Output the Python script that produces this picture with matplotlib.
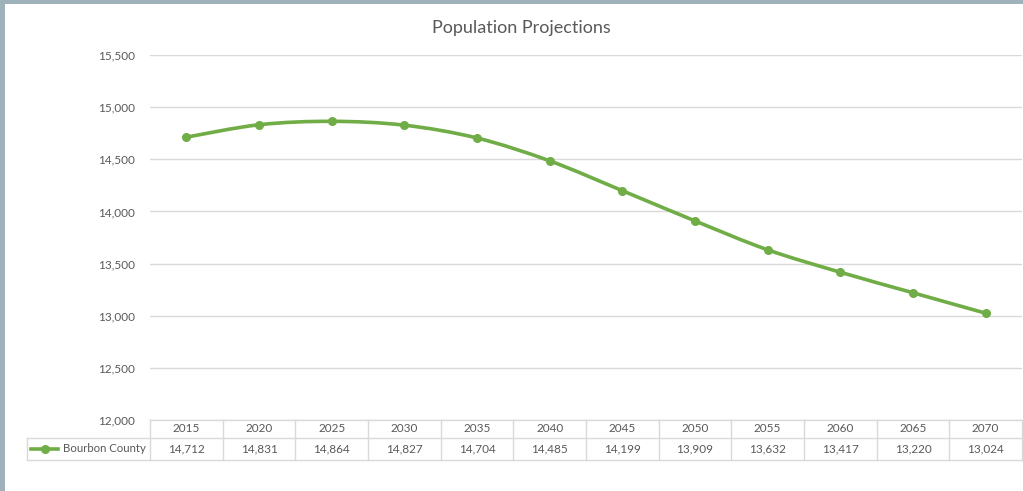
import matplotlib.pyplot as plt
import numpy as np
from matplotlib.path import Path
from matplotlib.patches import PathPatch, Rectangle
from matplotlib.lines import Line2D

plt.rcParams['font.family'] = ['Lato', 'DejaVu Sans']

years = ['2015', '2020', '2025', '2030', '2035', '2040',
         '2045', '2050', '2055', '2060', '2065', '2070']
population = [14712, 14831, 14864, 14827, 14704, 14485,
              14199, 13909, 13632, 13417, 13220, 13024]
series_name = 'Bourbon County'
y_ticks = [12000, 12500, 13000, 13500, 14000, 14500, 15000, 15500]

LINE_COLOR = '#70ad47'
TEXT_COLOR = '#595959'
GRID_COLOR = '#d9d9d9'
W, H = 1023, 491


def smooth_path(xs, ys):
    # Excel-style smoothed line: cubic Bezier through every point
    pts = np.column_stack([xs, ys]).astype(float)
    n = len(pts)
    verts = [pts[0]]
    codes = [Path.MOVETO]
    for i in range(n - 1):
        p0 = pts[max(i - 1, 0)]
        p1 = pts[i]
        p2 = pts[i + 1]
        p3 = pts[min(i + 2, n - 1)]
        c1 = p1 + (p2 - p0) / 6
        c2 = p2 - (p3 - p1) / 6
        verts += [c1, c2, p2]
        codes += [Path.CURVE4] * 3
    return Path(verts, codes)


fig = plt.figure(figsize=(W / 100, H / 100), dpi=100)
fig.patch.set_facecolor('white')

# window frame
fig.patches.append(Rectangle((0, 1 - 4 / H), 1, 4 / H, transform=fig.transFigure,
                             facecolor='#a0b2b9', edgecolor='none', zorder=0))
fig.patches.append(Rectangle((0, 0), 5 / W, 1, transform=fig.transFigure,
                             facecolor='#a0b2b9', edgecolor='none', zorder=0))

left, right, bottom, top = 150, 1022, 420, 55
ax = fig.add_axes([left / W, 1 - bottom / H, (right - left) / W, (bottom - top) / H])

x = np.arange(len(years))
ax.add_patch(PathPatch(smooth_path(x, population), facecolor='none',
                       edgecolor=LINE_COLOR, linewidth=2.6, capstyle='round', zorder=3))
ax.plot(x, population, linestyle='none', marker='o', markersize=5.5,
        color=LINE_COLOR, zorder=4)

ax.set_xlim(-0.5, len(years) - 0.5)
ax.set_ylim(12000, 15500)
ax.set_yticks(y_ticks)
ax.set_yticklabels([f'{v:,}' for v in y_ticks])
ax.set_xticks([])
ax.tick_params(axis='y', length=0, pad=11, labelsize=8.5, labelcolor=TEXT_COLOR)
ax.grid(axis='y', color=GRID_COLOR, linewidth=1)
ax.set_axisbelow(True)
for s in ax.spines.values():
    s.set_visible(False)

fig.text(0.5 + 10 / W, 1 - 28 / H, 'Population Projections', ha='center', va='center',
         fontsize=13, color=TEXT_COLOR)

# data table under the axis
ph = bottom - top
row1 = -18 / ph
row2 = -40 / ph
label_left = (27 - left) / (right - left)
kw = dict(transform=ax.transAxes, clip_on=False, color=GRID_COLOR, linewidth=1)
ax.add_line(Line2D([0, 1], [0, 0], **kw))
ax.add_line(Line2D([label_left, 1], [row1, row1], **kw))
ax.add_line(Line2D([label_left, 1], [row2, row2], **kw))
ax.add_line(Line2D([label_left, label_left], [row1, row2], **kw))
for i in range(len(years) + 1):
    xc = i / len(years)
    ax.add_line(Line2D([xc, xc], [0, row2], **kw))

for i, (yr, val) in enumerate(zip(years, population)):
    xc = (i + 0.5) / len(years)
    ax.text(xc, row1 / 2, yr, transform=ax.transAxes, ha='center', va='center',
            fontsize=8.5, color=TEXT_COLOR)
    ax.text(xc, (row1 + row2) / 2, f'{val:,}', transform=ax.transAxes,
            ha='center', va='center', fontsize=8.5, color=TEXT_COLOR)

# legend key in the row label cell
kx0 = (31 - left) / (right - left)
kx1 = (58 - left) / (right - left)
ym = (row1 + row2) / 2
ax.add_line(Line2D([kx0, kx1], [ym, ym], transform=ax.transAxes, clip_on=False,
                   color=LINE_COLOR, linewidth=2.6))
ax.add_line(Line2D([(kx0 + kx1) / 2], [ym], transform=ax.transAxes, clip_on=False,
                   color=LINE_COLOR, marker='o', markersize=5.5, linestyle='none'))
ax.text((146 - left) / (right - left), ym, series_name, transform=ax.transAxes,
        ha='right', va='center', fontsize=8.2, color=TEXT_COLOR)

fig.savefig('out.png', dpi=100)
